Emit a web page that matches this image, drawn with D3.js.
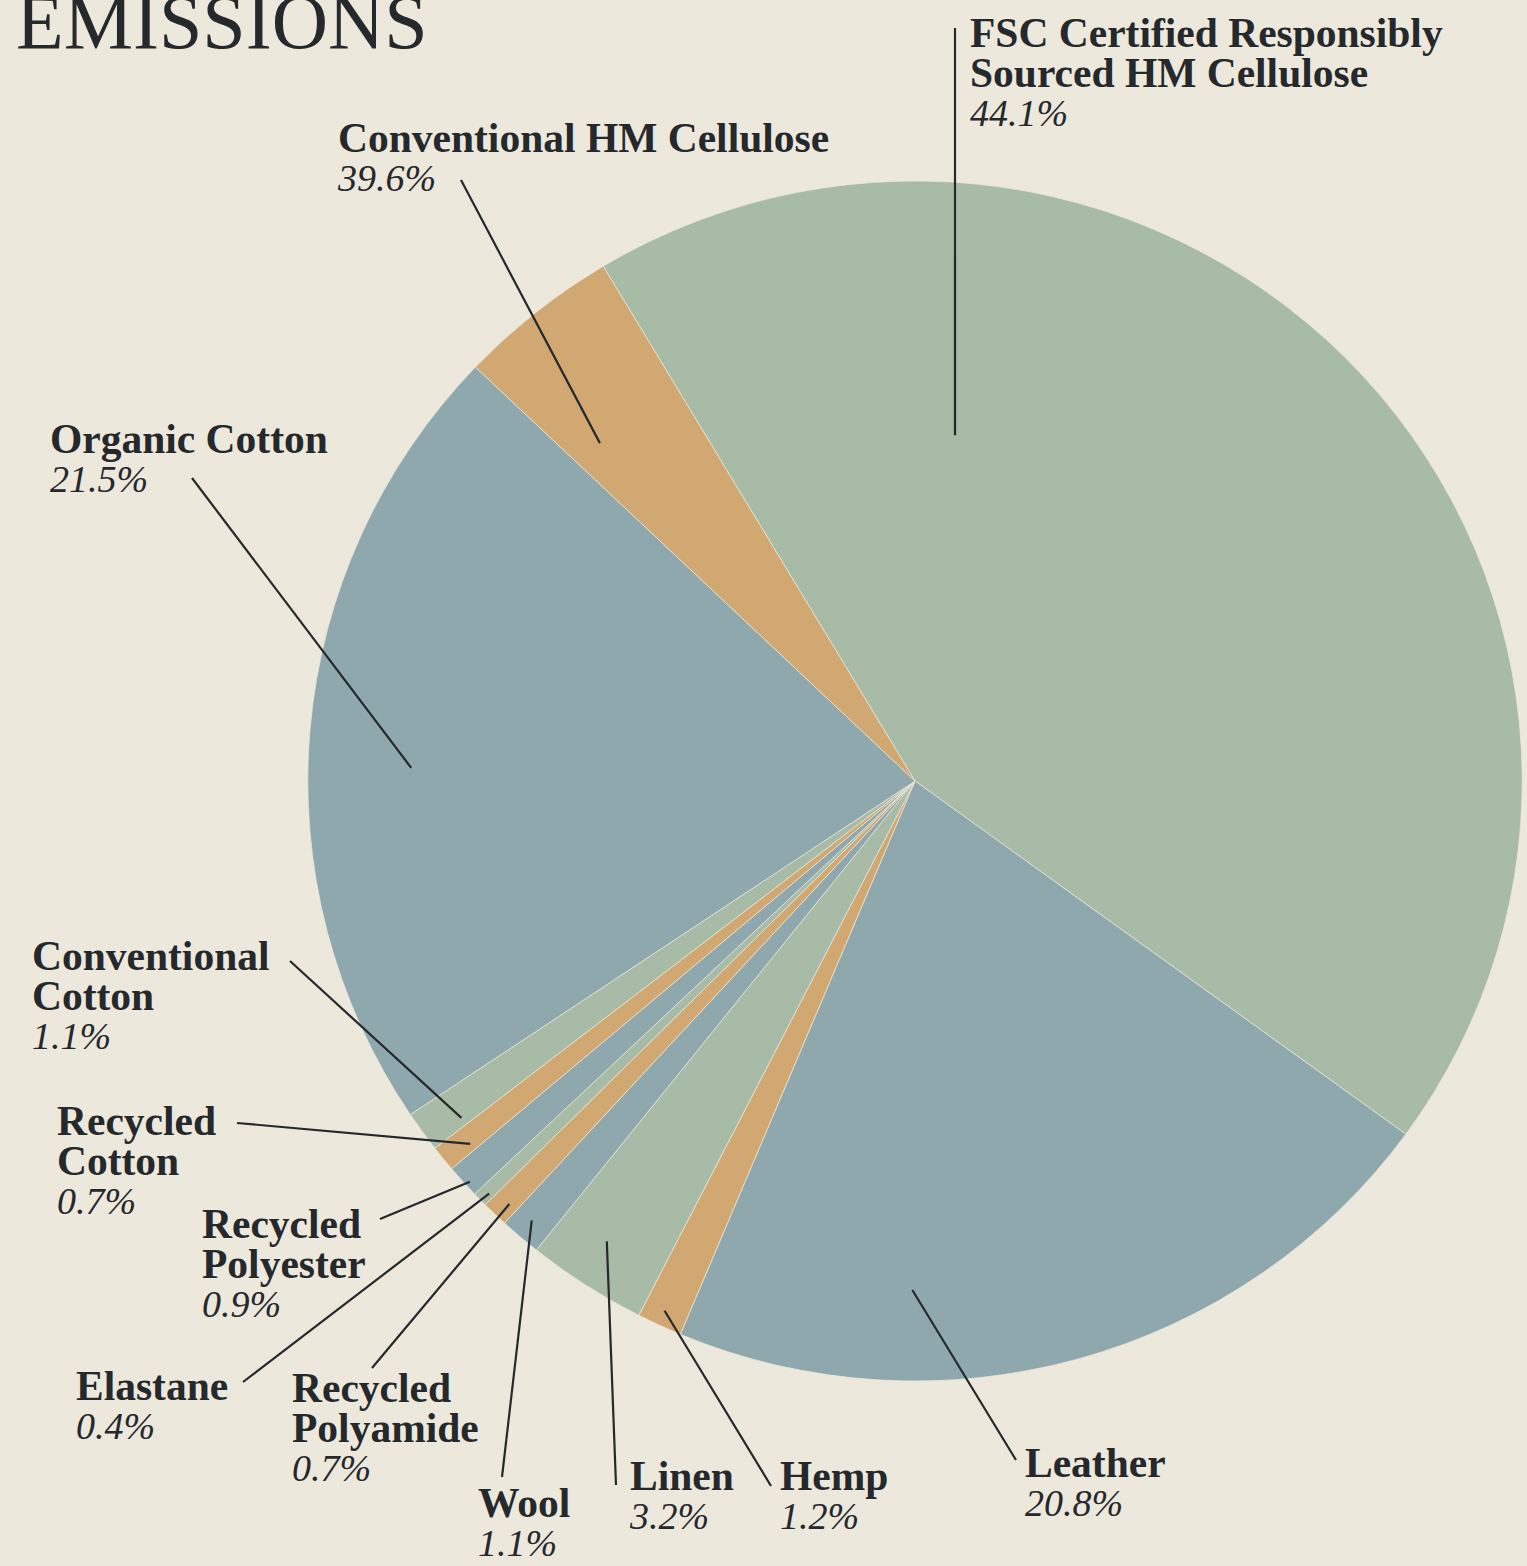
<!DOCTYPE html>
<html>
<head>
<meta charset="utf-8">
<script src="https://cdn.jsdelivr.net/npm/d3@7"></script>
<style>
  html, body { margin: 0; padding: 0; background: #ece8dc; }
  svg { display: block; }
</style>
</head>
<body>
<script>
// ---- data ----
const categories = ["FSC Certified Responsibly Sourced HM Cellulose", "Leather", "Hemp", "Linen", "Wool",
  "Recycled Polyamide", "Elastane", "Recycled Polyester", "Recycled Cotton", "Conventional Cotton",
  "Organic Cotton", "Conventional HM Cellulose"];
// slice shares as drawn in the picture (printed labels below)
const sliceValues = [43.6, 21.3, 1.2, 3.2, 1.1, 0.7, 0.4, 0.9, 0.7, 1.1, 21.5, 4.3];
const labelPercents = ["44.1%", "20.8%", "1.2%", "3.2%", "1.1%", "0.7%", "0.4%", "0.9%", "0.7%", "1.1%", "21.5%", "39.6%"];
const palette = ["#a8bba6", "#8fa8ad", "#d1a872"];
const titleText = "EMISSIONS";

// ---- layout (label placement & leader anchors) ----
const labelLines = [
  ["FSC Certified Responsibly", "Sourced HM Cellulose"], ["Leather"], ["Hemp"], ["Linen"], ["Wool"],
  ["Recycled", "Polyamide"], ["Elastane"], ["Recycled", "Polyester"], ["Recycled", "Cotton"],
  ["Conventional", "Cotton"], ["Organic Cotton"], ["Conventional HM Cellulose"]
];
const labelPos = [ // x, first baseline
  [970, 47], [1025, 1477], [780, 1490], [630, 1490], [478, 1517],
  [292, 1402], [76, 1400], [202, 1238], [57, 1135],
  [32, 970], [50, 453], [338, 152]
];
const leaderOuter = [
  [955, 28], [1016, 1460], [771, 1486], [616, 1485], [502, 1477],
  [372, 1368], [243, 1382], [380, 1219], [237, 1123],
  [290, 961], [192, 478], [461, 180]
];
const leaderInner = [ // polar: angle (deg, clockwise from top), radius
  [6.6, 348], [180.3, 509], [205.3, 586], [213.8, 554], [221.1, 583],
  [223.8, 586], [225.9, 593], [228.0, 599], [230.8, 574],
  [233.4, 565], [271.5, 504], [317.0, 462]
];

const W = 1527, H = 1566;
const cx = 915, cy = 781, R = 600, sx = 1.012;
const startDeg = -30.9;

const svg = d3.select("body").append("svg").attr("width", W).attr("height", H);
svg.append("rect").attr("width", W).attr("height", H).attr("fill", "#ece8dc");

const color = d3.scaleOrdinal().domain(d3.range(3)).range(palette);
const pie = d3.pie().sort(null).value(d => d)
  .startAngle(startDeg * Math.PI / 180)
  .endAngle(startDeg * Math.PI / 180 + 2 * Math.PI);
const arc = d3.arc().innerRadius(0).outerRadius(R);

const g = svg.append("g").attr("transform", `translate(${cx},${cy}) scale(${sx},1)`);
g.selectAll("path").data(pie(sliceValues)).join("path")
  .attr("d", arc)
  .attr("fill", (d, i) => color(i % 3))
  .attr("stroke", "#ece8dc")
  .attr("stroke-width", 0.7)
  .attr("vector-effect", "non-scaling-stroke");

// leader lines
const toXY = (deg, r) => {
  const a = deg * Math.PI / 180;
  return [cx + r * Math.sin(a), cy - r * Math.cos(a)];
};
svg.append("g").selectAll("line").data(categories).join("line")
  .attr("x1", (d, i) => leaderOuter[i][0])
  .attr("y1", (d, i) => leaderOuter[i][1])
  .attr("x2", (d, i) => toXY(leaderInner[i][0], leaderInner[i][1])[0])
  .attr("y2", (d, i) => toXY(leaderInner[i][0], leaderInner[i][1])[1])
  .attr("stroke", "#25292c")
  .attr("stroke-width", 2.2);

// labels
const lineH = 40;
const lab = svg.append("g").selectAll("g").data(categories).join("g");
lab.each(function(d, i) {
  const sel = d3.select(this);
  const [x, y] = labelPos[i];
  const t = sel.append("text")
    .attr("x", x).attr("y", y)
    .attr("font-family", "'Liberation Serif', 'DejaVu Serif', serif")
    .attr("font-weight", 700)
    .attr("font-size", 41.5)
    .attr("fill", "#25292c");
  labelLines[i].forEach((ln, k) => {
    t.append("tspan").attr("x", x).attr("y", y + k * lineH).text(ln);
  });
  sel.append("text")
    .attr("x", x).attr("y", y + (labelLines[i].length - 1) * lineH + 39)
    .attr("font-family", "'Liberation Serif', 'DejaVu Serif', serif")
    .attr("font-style", "italic")
    .attr("font-size", 38)
    .attr("fill", "#25292c")
    .text(labelPercents[i]);
});

// title (cut at top, as in the reference)
svg.append("text")
  .attr("x", 16).attr("y", 48)
  .attr("font-family", "'Liberation Serif', serif")
  .attr("font-size", 78)
  .attr("fill", "#25292c")
  .text(titleText);
</script>
</body>
</html>
